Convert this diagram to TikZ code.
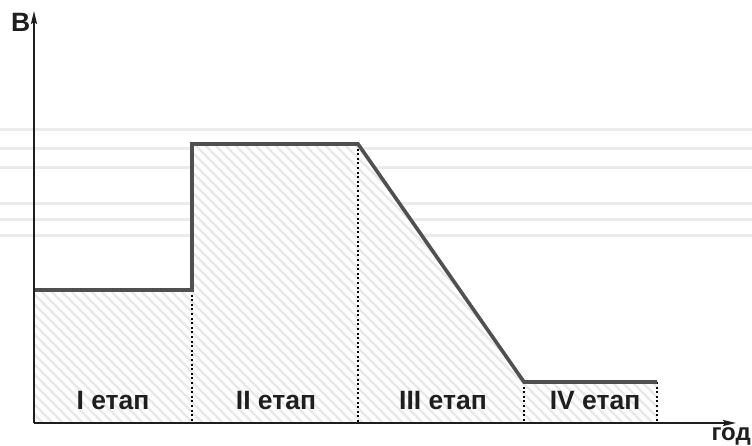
\documentclass[tikz,border=0pt]{standalone}
\usepackage{fontspec}
\setmainfont{Liberation Sans}
\usetikzlibrary{arrows.meta}
\definecolor{curvegray}{HTML}{505050}
\definecolor{bandgray}{HTML}{EBEBEB}
\definecolor{hatchgray}{HTML}{E8E8E8}
\definecolor{textdark}{HTML}{1E1E1E}
\tikzset{
  band/.style={draw=bandgray, line width=3pt},
  hatchline/.style={draw=hatchgray, line width=2.4pt},
  curveline/.style={draw=curvegray, line width=3.6pt, line join=miter},
  axisline/.style={draw=textdark, line width=1.8pt, -{Stealth[length=13pt,width=6pt,inset=2pt]}},
  dotline/.style={draw=black, line width=1.6pt, dash pattern=on 2pt off 2.6pt},
  lbl/.style={font=\fontsize{26.5}{28}\selectfont\bfseries, text=textdark, inner sep=0pt, anchor=base},
}
\begin{document}
\begin{tikzpicture}[x=1pt, y=-1pt]
\useasboundingbox (0,0) rectangle (752,446);
\fill[white] (0,0) rectangle (752,446);
% background bands
\foreach \yy/\nm in {130/a,149/b,168/c,204/d,220/e,236/f}{
  \coordinate (bl\nm) at (0,\yy);
  \coordinate (br\nm) at (752,\yy);
  \draw[band] (bl\nm) -- (br\nm);
}
% curve points
\coordinate (p0) at (34,290);
\coordinate (p1) at (192,290);
\coordinate (p2) at (192,144);
\coordinate (p3) at (358,144);
\coordinate (p4) at (524,382);
\coordinate (p5) at (657,382);
\coordinate (q1) at (192,423);
\coordinate (q3) at (358,423);
\coordinate (q4) at (524,423);
\coordinate (q5) at (657,423);
\coordinate (O) at (34,423);
\coordinate (ytop) at (34,11);
\coordinate (xend) at (736,423);
% area fill and hatching
\fill[white] (p0) -- (p1) -- (p2) -- (p3) -- (p4) -- (p5) -- (q5) -- (O) -- cycle;
\begin{scope}
  \clip (p0) -- (p1) -- (p2) -- (p3) -- (p4) -- (p5) -- (q5) -- (O) -- cycle;
  \foreach \xx in {-400,-390,...,700}{
    \draw[hatchline] (\xx,100) -- (\xx+340,440);
  }
\end{scope}
% dotted separators
\draw[dotline] (p1) -- (q1);
\draw[dotline] (p3) -- (q3);
\draw[dotline] (p4) -- (q4);
\draw[dotline] (p5) -- (q5);
% curve
\draw[curveline] (p0) -- (p1) -- (p2) -- (p3) -- (p4) -- (p5);
% axes
\draw[axisline] (O) -- (ytop);
\draw[axisline] (O) -- (xend);
% labels
\node[lbl] (l1) at (113,409) {I етап};
\node[lbl] (l2) at (276,409) {II етап};
\node[lbl] (l3) at (443,409) {III етап};
\node[lbl] (l4) at (595,409) {IV етап};
\node[lbl, anchor=base west] (ylab) at (11,32) {В};
\node[lbl, font=\fontsize{24}{26}\selectfont\bfseries, anchor=base east] (xlab) at (751,440) {год};
\end{tikzpicture}
\end{document}
